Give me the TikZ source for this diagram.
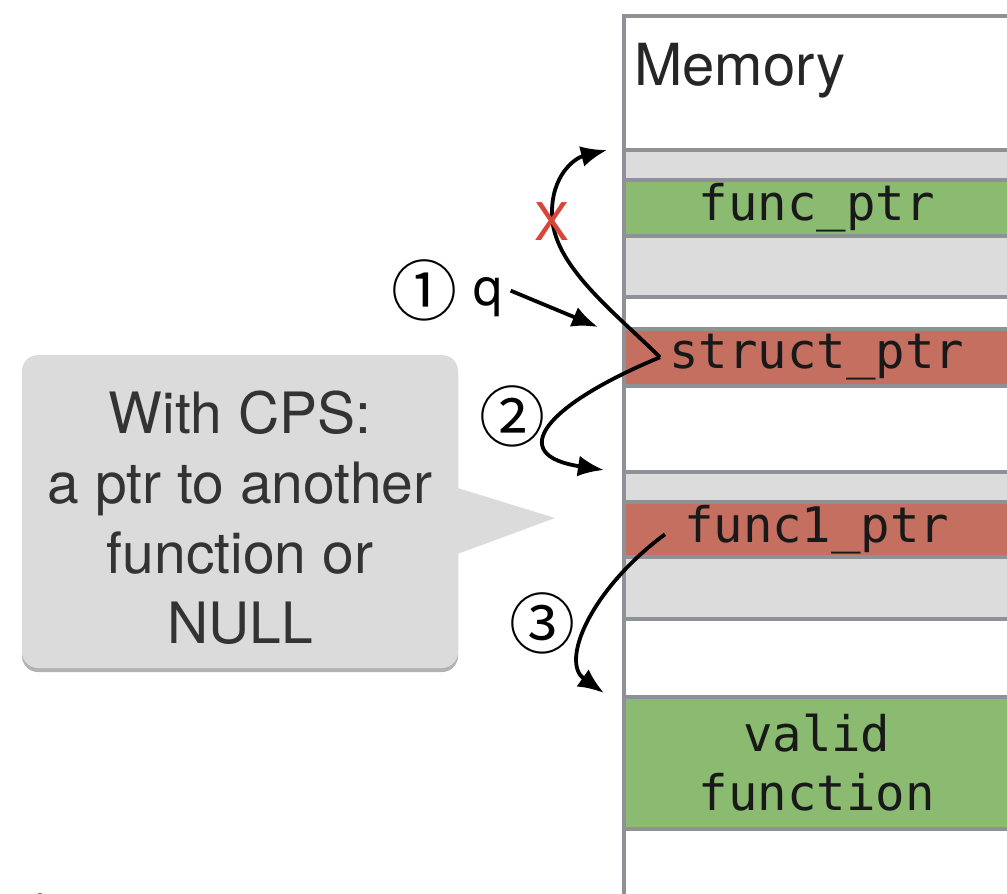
\documentclass[tikz,border=0pt]{standalone}
\usepackage{fontspec}
\setmainfont{TeX Gyre Heros}
\newfontfamily\monofont{DejaVu Sans Mono}
\newfontfamily\cjkfont{Noto Sans CJK JP}
\usetikzlibrary{shadows,arrows.meta,calc}

\definecolor{memline}{HTML}{8E9196}
\definecolor{memgray}{HTML}{DCDCDC}
\definecolor{memgreen}{HTML}{8BBB70}
\definecolor{memred}{HTML}{C56F61}
\definecolor{crossred}{HTML}{D8463A}
\definecolor{notegray}{HTML}{DBDBDB}

\begin{document}
\begin{tikzpicture}[x=1pt,y=-1pt,
  cell/.style={draw=memline, line width=3.5pt, minimum width=386pt, inner sep=0pt,
    anchor=north west, font=\monofont\fontsize{49}{59}\selectfont, text=black!90, align=center},
  freecell/.style={cell, fill=white},
  padcell/.style={cell, fill=memgray},
  goodcell/.style={cell, fill=memgreen},
  badcell/.style={cell, fill=memred},
  ptr/.style={line width=3.8pt, -{Latex[length=26pt,width=21pt]}},
  stepnum/.style={font=\cjkfont\fontsize{66}{70}\selectfont, inner sep=0pt},
  note/.style={fill=notegray, rounded corners=16pt, minimum width=436pt, minimum height=313pt,
    inner sep=0pt,
    drop shadow={shadow xshift=0pt, shadow yshift=-4pt, opacity=0.3, fill=black}}
]
\useasboundingbox (0,0) rectangle (1007,894);
\clip (0,0) rectangle (1007,894);

% memory column, top to bottom
\node[freecell, minimum height=134pt] (top) at (622,14) {};
\node[anchor=base west, font=\fontsize{58}{70}\selectfont, text=black!85, inner sep=0pt] (title) at (634,85) {Memory};
\node[padcell,  minimum height=30pt]  (g1)    at (622,148) {};
\node[goodcell, minimum height=56pt]  (fptr)  at (622,178) {func\_ptr};
\node[padcell,  minimum height=61pt]  (g2)    at (622,234) {};
\node[freecell, minimum height=32pt]  (w1)    at (622,295) {};
\node[badcell,  minimum height=57pt]  (sptr)  at (622,327) {struct\_ptr};
\node[freecell, minimum height=86pt]  (w2)    at (622,384) {};
\node[padcell,  minimum height=30pt]  (g3)    at (622,470) {};
\node[badcell,  minimum height=55pt]  (f1ptr) at (622,500) {func1\_ptr};
\node[padcell,  minimum height=62pt]  (g4)    at (622,555) {};
\node[freecell, minimum height=78pt]  (w3)    at (622,617) {};
\node[goodcell, minimum height=132pt] (valid) at (622,695) {valid\\function};
\node[freecell, minimum height=100pt] (w4)    at (622,827) {};

% callout
\node[note] (cps) at (240,511.5) {};
\node[align=center, font=\fontsize{57}{70}\selectfont, text=black!80, inner sep=0pt, anchor=base]
  (cpstext) at (240,643) {With CPS:\\a ptr to another\\function or\\NULL};
\coordinate (ctip) at (555,518);
\fill[notegray] ($(cps.east)+(-2,-24)$) -- (ctip) -- ($(cps.east)+(-2,43)$) -- cycle;

% labels
\node[stepnum] (c1) at (424,290) {①};
\node[anchor=base, font=\fontsize{52}{60}\selectfont, inner sep=0pt] (qlab) at (488,305) {q};
\node[stepnum] (c2) at (512,416) {②};
\node[stepnum] (c3) at (542,623) {③};

% pointer endpoints
\coordinate (fork)  at ($(sptr.west)+(38,0)$);
\coordinate (xtip)  at ($(g1.north west)+(-15,2)$);
\coordinate (qtip)  at ($(sptr.north west)+(-24,0)$);
\coordinate (tip2)  at ($(g3.north west)+(-18,0)$);
\coordinate (src3)  at ($(f1ptr.west)+(43,5)$);
\coordinate (tip3)  at ($(valid.north west)+(-18,-2)$);

% pointers
\draw[ptr] ($(qlab.east)+(8,-6)$) -- (qtip);
\draw[ptr] (fork) .. controls (612,310) and (553,265) .. (552,215)
                  .. controls (551,175) and (575,158) .. (xtip);
\draw[ptr] (fork) .. controls (545,405) and (505,455) .. (tip2);
\draw[ptr] (src3) .. controls (590,590) and (560,662) .. (tip3);

% broken link mark
\node[text=crossred, font=\fontsize{52}{60}\selectfont, inner sep=0pt] (cross) at (552,222) {X};

% start of the next line of text below
\node[anchor=base west, font=\monofont\fontsize{48}{58}\selectfont, inner sep=0pt] (nextline) at (25,930) {int};
\end{tikzpicture}
\end{document}
